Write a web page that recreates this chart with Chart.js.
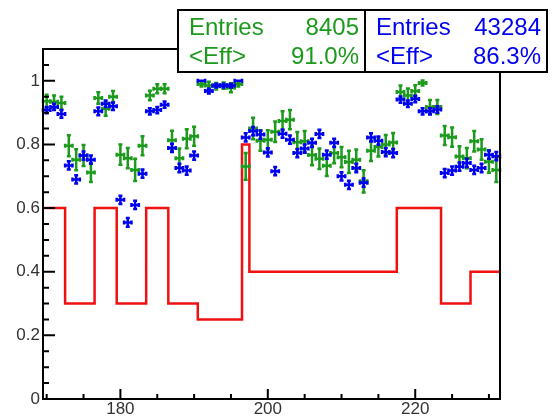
<!DOCTYPE html>
<html>
<head>
<meta charset="utf-8">
<script src="https://cdn.jsdelivr.net/npm/chart.js@4"></script>
<style>
    html, body { margin: 0; padding: 0; background: #fff; }
</style>
</head>
<body>
<canvas id="EffChart" width="554" height="416"></canvas>
<script>
"use strict";

// bin centres (x) and efficiencies
const binCenters = [170, 171, 172, 173, 174, 175, 176, 177, 178, 179,
    180, 181, 182, 183, 184, 185, 186, 187, 188, 189,
    190, 191, 192, 193, 194, 195, 196, 197, 198, 199,
    200, 201, 202, 203, 204, 205, 206, 207, 208, 209,
    210, 211, 212, 213, 214, 215, 216, 217, 218, 219,
    220, 221, 222, 223, 224, 225, 226, 227, 228, 229,
    230, 231];

const greenEff = [0.936, 0.934, 0.930, 0.796, 0.752, 0.765, 0.712, 0.946, 0.912, 0.950,
    0.768, 0.757, 0.720, 0.796, 0.954, 0.975, 0.975, 0.813, 0.757, 0.818,
    0.826, 0.990, 0.985, 0.983, 0.985, 0.978, 0.990, 0.731, 0.850, 0.812,
    0.815, 0.840, 0.874, 0.878, 0.807, 0.810, 0.767, 0.755, 0.733, 0.773,
    0.760, 0.745, 0.752, 0.684, 0.780, 0.792, 0.800, 0.806, 0.965, 0.954,
    0.968, 0.993, 0.918, 0.918, 0.828, 0.823, 0.762, 0.757, 0.810, 0.784,
    0.746, 0.720];

const greenErr = [0.020, 0.020, 0.020, 0.033, 0.033, 0.033, 0.030, 0.018, 0.022, 0.018,
    0.032, 0.032, 0.035, 0.030, 0.015, 0.014, 0.014, 0.030, 0.030, 0.030,
    0.030, 0.008, 0.012, 0.010, 0.010, 0.014, 0.008, 0.042, 0.034, 0.032,
    0.030, 0.032, 0.030, 0.030, 0.032, 0.032, 0.032, 0.032, 0.032, 0.032,
    0.032, 0.035, 0.032, 0.035, 0.032, 0.030, 0.030, 0.030, 0.020, 0.022,
    0.018, 0.008, 0.022, 0.022, 0.030, 0.030, 0.032, 0.032, 0.032, 0.032,
    0.035, 0.038];

const blueEff = [0.908, 0.918, 0.896, 0.734, 0.690, 0.765, 0.752, 0.904, 0.928, 0.920,
    0.626, 0.555, 0.610, 0.708, 0.904, 0.908, 0.925, 0.789, 0.726, 0.718,
    0.765, 1.000, 0.968, 0.985, 0.985, 0.985, 1.000, 0.822, 0.842, 0.831,
    0.775, 0.716, 0.834, 0.815, 0.773, 0.787, 0.805, 0.833, 0.768, 0.805,
    0.700, 0.673, 0.726, 0.680, 0.822, 0.812, 0.776, 0.773, 0.941, 0.928,
    0.943, 0.904, 0.904, 0.910, 0.710, 0.718, 0.730, 0.742, 0.720, 0.726,
    0.768, 0.763];

const blueErr = [0.010, 0.010, 0.012, 0.013, 0.013, 0.013, 0.013, 0.012, 0.010, 0.012,
    0.013, 0.014, 0.013, 0.013, 0.010, 0.010, 0.010, 0.013, 0.013, 0.013,
    0.013, 0.000, 0.008, 0.006, 0.006, 0.006, 0.000, 0.013, 0.013, 0.013,
    0.013, 0.013, 0.013, 0.013, 0.013, 0.013, 0.013, 0.013, 0.013, 0.013,
    0.013, 0.013, 0.013, 0.013, 0.013, 0.013, 0.013, 0.013, 0.010, 0.010,
    0.010, 0.010, 0.010, 0.010, 0.013, 0.013, 0.013, 0.013, 0.013, 0.013,
    0.013, 0.013];

// red reference histogram: bin edges and the value of each bin
const redEdges = [169.5, 172.5, 176.5, 179.5, 183.5, 186.5, 190.5, 196.5, 197.5, 217.5, 223.5, 227.5, 231.5];
const redValues = [0.6, 0.3, 0.6, 0.3, 0.6, 0.3, 0.25, 0.8, 0.4, 0.6, 0.3, 0.4];

const xTicks = [180, 200, 220];
const xTickLabels = ["180", "200", "220"];
const yTicks = [0, 0.2, 0.4, 0.6, 0.8, 1];
const yTickLabels = ["0", "0.2", "0.4", "0.6", "0.8", "1"];

const statNames = ["Entries", "<Eff>"];
const greenStats = ["8405", "91.0%"];
const blueStats = ["43284", "86.3%"];

const GREEN = "#1c9a1c";
const BLUE = "#0000f0";
const RED = "#f01010";
const FONT = "'Liberation Sans', Arial, sans-serif";

function drawErrors(ctx, xs, ys, ds) {
    ctx.strokeStyle = ds.borderColor;
    ctx.lineWidth = 2.5;
    ds.data.forEach(function (p, j) {
        const err = ds.errors[j];
        const x = xs.getPixelForValue(p.x);
        const y = ys.getPixelForValue(p.y);
        const xl = xs.getPixelForValue(p.x - 0.5);
        const xr = xs.getPixelForValue(p.x + 0.5);
        ctx.beginPath();
        ctx.moveTo(xl, y);
        ctx.lineTo(xr, y);
        ctx.moveTo(xl, y - 2);
        ctx.lineTo(xl, y + 2);
        ctx.moveTo(xr, y - 2);
        ctx.lineTo(xr, y + 2);
        if (err > 0) {
            const yt = ys.getPixelForValue(p.y + err);
            const yb = ys.getPixelForValue(p.y - err);
            ctx.moveTo(x, yt);
            ctx.lineTo(x, yb);
            ctx.moveTo(x - 2, yt);
            ctx.lineTo(x + 2, yt);
            ctx.moveTo(x - 2, yb);
            ctx.lineTo(x + 2, yb);
        }
        ctx.stroke();
    });
}

function drawStatBox(ctx, x0, x1, color, values) {
    const y0 = 10, y1 = 72;
    ctx.fillStyle = "#fff";
    ctx.fillRect(x0, y0, x1 - x0, y1 - y0);
    ctx.strokeStyle = "#000";
    ctx.lineWidth = 2;
    ctx.strokeRect(x0, y0, x1 - x0, y1 - y0);
    ctx.fillStyle = color;
    ctx.font = "24px " + FONT;
    ctx.textBaseline = "middle";
    for (let i = 0; i < statNames.length; i++) {
        const y = y0 + 18 + i * 29;
        ctx.textAlign = "left";
        ctx.fillText(statNames[i], x0 + 11, y);
        ctx.textAlign = "right";
        ctx.fillText(values[i], x1 - 6, y);
    }
}

const rootFrame = {
    id: "rootFrame",
    afterDatasetsDraw(chart) {
        const ctx = chart.ctx;
        ctx.save();
        chart.data.datasets.forEach(function (ds) {
            if (ds.errors) drawErrors(ctx, chart.scales.x, chart.scales.y, ds);
        });
        ctx.restore();
    },
    afterDraw(chart) {
        const ctx = chart.ctx;
        const a = chart.chartArea;
        const xs = chart.scales.x, ys = chart.scales.y;
        ctx.save();
        ctx.strokeStyle = "#000";
        ctx.lineWidth = 2;
        ctx.strokeRect(a.left, a.top, a.right - a.left, a.bottom - a.top);
        ctx.beginPath();
        for (let v = 170; v <= 231; v += 5) {
            const px = xs.getPixelForValue(v);
            const len = xTicks.includes(v) ? 10 : 5;
            ctx.moveTo(px, a.bottom);
            ctx.lineTo(px, a.bottom - len);
        }
        for (let k = 0; k <= 22; k++) {
            const v = k * 0.05;
            const py = ys.getPixelForValue(v);
            const len = (k % 4 === 0) ? 12 : 6;
            ctx.moveTo(a.left, py);
            ctx.lineTo(a.left + len, py);
        }
        ctx.stroke();
        drawStatBox(ctx, 178, 365, GREEN, greenStats);
        drawStatBox(ctx, 365, 547, BLUE, blueStats);
        ctx.restore();
    }
};

const histData = redEdges.map(function (e, i) {
    return { x: e, y: redValues[Math.min(i, redValues.length - 1)] };
});

new Chart(document.getElementById("EffChart"), {
    type: "scatter",
    data: {
        datasets: [{
            type: "line",
            data: histData,
            borderColor: RED,
            borderWidth: 2.5,
            pointRadius: 0,
            stepped: true,
            fill: false
        }, {
            data: binCenters.map(function (x, i) { return { x: x, y: greenEff[i] }; }),
            errors: greenErr,
            borderColor: GREEN,
            pointRadius: 0
        }, {
            data: binCenters.map(function (x, i) { return { x: x, y: blueEff[i] }; }),
            errors: blueErr,
            borderColor: BLUE,
            pointRadius: 0
        }]
    },
    options: {
        responsive: false,
        animation: false,
        layout: { padding: { top: 49, right: 54, left: 0, bottom: 0 } },
        plugins: {
            legend: { display: false },
            tooltip: { enabled: false }
        },
        scales: {
            x: {
                type: "linear",
                min: 169.5,
                max: 231.5,
                grid: { display: false, drawTicks: false },
                border: { display: false },
                afterBuildTicks: function (s) { s.ticks = xTicks.map(function (v) { return { value: v }; }); },
                afterFit: function (s) { s.height = 17; },
                ticks: {
                    autoSkip: false,
                    maxRotation: 0,
                    padding: 0,
                    color: "#333",
                    font: { family: FONT, size: 17 },
                    callback: function (v, i) { return xTickLabels[i]; }
                }
            },
            y: {
                min: 0,
                max: 1.1,
                grid: { display: false, drawTicks: false },
                border: { display: false },
                afterBuildTicks: function (s) { s.ticks = yTicks.map(function (v) { return { value: v }; }); },
                afterFit: function (s) { s.width = 43; },
                ticks: {
                    padding: 3,
                    color: "#333",
                    font: { family: FONT, size: 17 },
                    callback: function (v, i) { return yTickLabels[i]; }
                }
            }
        }
    },
    plugins: [rootFrame]
});
</script>
</body>
</html>
